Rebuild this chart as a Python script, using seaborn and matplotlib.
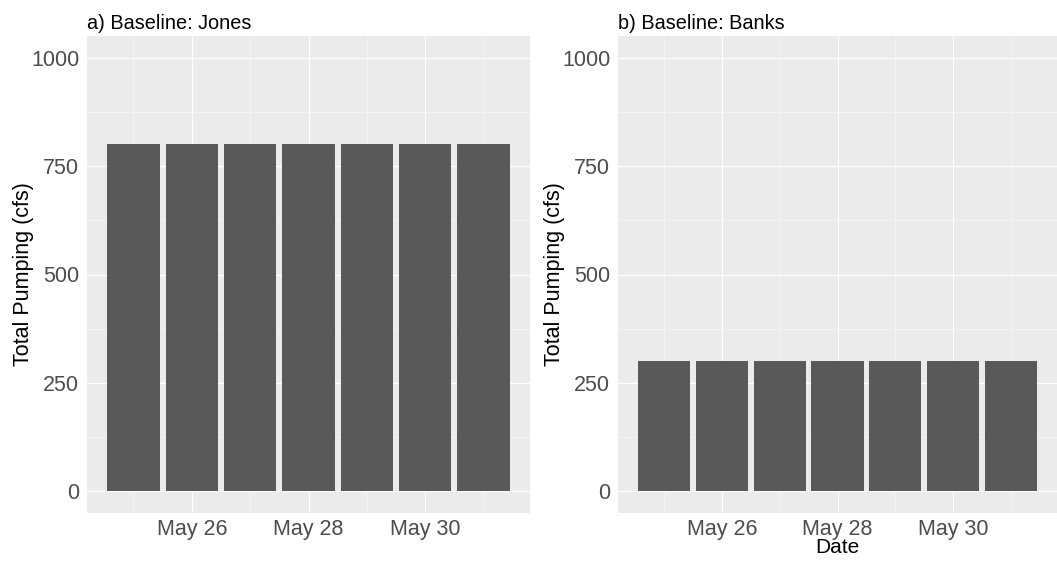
import matplotlib
matplotlib.use("Agg")
import matplotlib.pyplot as plt
import seaborn as sns
import pandas as pd
from matplotlib.ticker import FixedLocator

# Daily total pumping for the baseline scenarios
dates = ["May 25", "May 26", "May 27", "May 28", "May 29", "May 30", "May 31"]
jones_cfs = [800, 800, 800, 800, 800, 800, 800]
banks_cfs = [300, 300, 300, 300, 300, 300, 300]
panel_titles = ["a) Baseline: Jones", "b) Baseline: Banks"]
date_ticks = ["May 26", "May 28", "May 30"]
y_ticks = [0, 250, 500, 750, 1000]

sns.set_theme(style="darkgrid")
plt.rcParams["font.family"] = ["Liberation Sans", "DejaVu Sans"]

fig = plt.figure(figsize=(10.57, 5.63), dpi=100)
W, H = 1057, 563
ax_left = fig.add_axes([87 / W, 1 - 513 / H, 443 / W, 477 / H])
ax_right = fig.add_axes([618 / W, 1 - 513 / H, 439 / W, 477 / H])

panels = [(ax_left, jones_cfs, panel_titles[0], ""),
          (ax_right, banks_cfs, panel_titles[1], "Date")]

for ax, values, title, xlabel in panels:
    df = pd.DataFrame({"Date": dates, "Pumping": values})
    sns.barplot(data=df, x="Date", y="Pumping", order=dates, color="#595959",
                saturation=1, width=0.9, ax=ax, edgecolor="none")
    ax.set_facecolor("#EBEBEB")
    for s in ax.spines.values():
        s.set_visible(False)

    ax.set_ylim(-50, 1050)
    ax.set_xlim(-0.795, 6.795)
    ax.yaxis.set_major_locator(FixedLocator(y_ticks))
    ax.yaxis.set_minor_locator(FixedLocator([125, 375, 625, 875]))
    tick_pos = [dates.index(d) for d in date_ticks]
    ax.xaxis.set_major_locator(FixedLocator(tick_pos))
    ax.xaxis.set_minor_locator(FixedLocator([0, 2, 4, 6]))
    ax.set_xticklabels(date_ticks)

    ax.grid(which="major", color="white", linewidth=0.9)
    ax.grid(which="minor", color="#F7F7F7", linewidth=0.5)
    ax.set_axisbelow(True)

    ax.tick_params(axis="both", which="major", length=3.5, width=0.8,
                   color="#333333", labelcolor="#4D4D4D", labelsize=15.5, pad=2)
    ax.tick_params(axis="x", which="major", pad=0.5)
    ax.tick_params(axis="both", which="minor", length=0)

    ax.set_ylabel("Total Pumping (cfs)", fontsize=15.5, color="black", labelpad=-2)
    ax.set_xlabel(xlabel, fontsize=15, color="black", labelpad=-1)
    ax.set_title(title, loc="left", fontsize=14.3, color="black", pad=5)

fig.savefig("out.png", dpi=100)
